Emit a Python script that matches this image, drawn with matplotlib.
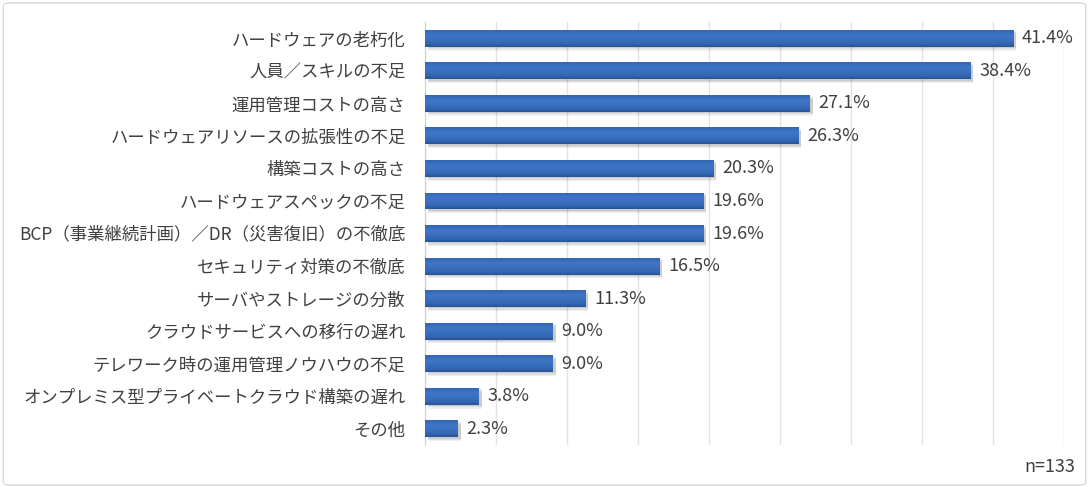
import numpy as np
import matplotlib.pyplot as plt
from matplotlib.patches import FancyBboxPatch
from matplotlib.colors import LinearSegmentedColormap

plt.rcParams['font.family'] = ['Noto Sans CJK JP', 'DejaVu Sans']

categories = [
    "ハードウェアの老朽化",
    "人員／スキルの不足",
    "運用管理コストの高さ",
    "ハードウェアリソースの拡張性の不足",
    "構築コストの高さ",
    "ハードウェアスペックの不足",
    "BCP（事業継続計画）／DR（災害復旧）の不徹底",
    "セキュリティ対策の不徹底",
    "サーバやストレージの分散",
    "クラウドサービスへの移行の遅れ",
    "テレワーク時の運用管理ノウハウの不足",
    "オンプレミス型プライベートクラウド構築の遅れ",
    "その他",
]
values = [41.4, 38.4, 27.1, 26.3, 20.3, 19.6, 19.6, 16.5, 11.3, 9.0, 9.0, 3.8, 2.3]
note = "n=133"

text_color = "#404040"
bar_h = 0.52

fig = plt.figure(figsize=(10.89, 4.87), dpi=100)
ax = fig.add_axes([0.3903, 0.0862, 0.587, 0.8686])

# light frame around the whole chart
fig.patches.append(FancyBboxPatch((0.003, 0.004), 0.994, 0.99, boxstyle="round,pad=0,rounding_size=0.006",
                                  transform=fig.transFigure, fill=False, edgecolor="#D9D9D9", linewidth=1))

y = np.arange(len(categories))
# soft shadows
for dy, a in [(0.12, 0.06), (0.08, 0.08), (0.04, 0.08)]:
    ax.barh(y + dy, values, height=bar_h, left=0.2, color="#000000", alpha=a, zorder=2)
bars = ax.barh(y, values, height=bar_h, color="#3A6EBD", zorder=3)

# vertical gradient inside each bar
grad = np.linspace(0, 1, 50).reshape(-1, 1)
cmap = LinearSegmentedColormap.from_list(
    "bar", [(0.0, "#3365B3"), (0.3, "#3F76C5"), (0.6, "#3A6FBD"), (0.85, "#3163B0"), (1.0, "#285397")])
for b in bars:
    x0, y0 = b.get_x(), b.get_y()
    im = ax.imshow(grad, cmap=cmap, aspect="auto", interpolation="bilinear",
                   extent=(x0, x0 + b.get_width(), y0 + b.get_height(), y0), zorder=4)
    im.set_clip_path(b)

for yi, v in zip(y, values):
    ax.text(v + 0.6, yi, f"{v:.1f}%", va="center", ha="left", fontsize=13, color=text_color, zorder=5)

ax.set_xlim(0, 45)
ax.set_ylim(len(categories) - 0.5, -0.5)
ax.set_xticks(np.arange(0, 46, 5))
ax.set_xticklabels([])
ax.tick_params(axis="x", length=0)
ax.tick_params(axis="y", length=0, pad=14)
ax.set_yticks(y)
ax.set_yticklabels(categories, fontsize=12.5, color=text_color)
ax.grid(axis="x", color="#DCE4EA", linewidth=1, zorder=0)
ax.set_axisbelow(True)
for s in ["top", "right", "bottom"]:
    ax.spines[s].set_visible(False)
ax.spines["left"].set_color("#D0D0D0")

fig.text(1075 / 1089, 1 - 467 / 487, note, ha="right", va="center", fontsize=13, color=text_color)

fig.savefig("out.png", dpi=100)
